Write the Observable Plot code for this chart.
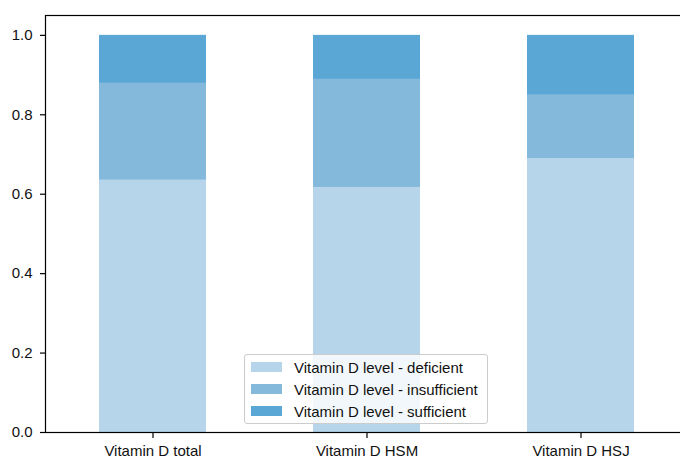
<!DOCTYPE html>
<html>
<head>
<meta charset="utf-8">
<script src="https://cdn.jsdelivr.net/npm/d3@7"></script>
<script src="https://cdn.jsdelivr.net/npm/@observablehq/plot@0.6"></script>
<style>
  body { margin: 0; background: #fff; font-family: "Liberation Sans", Arial, Helvetica, sans-serif; }
  #wrap { position: relative; width: 680px; height: 460px; overflow: hidden; }
  #legend {
    position: absolute; left: 244px; top: 354px; width: 242px; height: 67px;
    background: rgba(255,255,255,0.8); border: 1px solid #cccccc; border-radius: 3px;
    padding: 1px 0 0 0; box-sizing: content-box; font-size: 15px; color: #111;
  }
  .row { display: flex; align-items: center; height: 22px; padding-left: 6px; }
  .sw { width: 31px; height: 10.5px; margin-right: 12px; flex: none; }
</style>
</head>
<body>
<div id="wrap"><div id="chart"></div><div id="legend"></div></div>
<script>
const categories = ["Vitamin D total", "Vitamin D HSM", "Vitamin D HSJ"];
const seriesNames = ["Vitamin D level - deficient", "Vitamin D level - insufficient", "Vitamin D level - sufficient"];
const deficient = [0.635, 0.617, 0.689];
const insufficient = [0.244, 0.272, 0.160];
const sufficient = [0.121, 0.111, 0.151];
const colors = ["#b7d5ea", "#84b9db", "#5aa6d4"];
const yTicks = [0, 0.2, 0.4, 0.6, 0.8, 1.0];

const seriesValues = [deficient, insufficient, sufficient];
const data = [];
seriesNames.forEach((s, si) => {
  categories.forEach((c, ci) => data.push({category: c, series: s, value: seriesValues[si][ci]}));
});

const plot = Plot.plot({
  width: 680,
  height: 460,
  marginTop: 15,
  marginBottom: 28,
  marginLeft: 45,
  marginRight: -7.5,
  style: {fontFamily: '"Liberation Sans", Arial, Helvetica, sans-serif', fontSize: "15px", color: "#111", background: "#fff"},
  x: {domain: categories, paddingInner: 0.5, paddingOuter: 0.25, align: 0.5, label: null},
  y: {domain: [0, 1.05], label: null},
  color: {domain: seriesNames, range: colors},
  marks: [
    Plot.barY(data, Plot.stackY({x: "category", y: "value", fill: "series", order: seriesNames})),
    Plot.frame({stroke: "#000", strokeWidth: 1.2}),
    Plot.axisY({ticks: yTicks, tickFormat: ".1f", tickSize: 5, tickPadding: 8, label: null, stroke: "#000", strokeWidth: 1.2}),
    Plot.axisX({tickSize: 6, tickPadding: 7, label: null, stroke: "#000", strokeWidth: 1.2})
  ]
});
document.getElementById("chart").appendChild(plot);

const legend = document.getElementById("legend");
seriesNames.forEach((s, i) => {
  const row = document.createElement("div");
  row.className = "row";
  const sw = document.createElement("span");
  sw.className = "sw";
  sw.style.background = colors[i];
  const t = document.createElement("span");
  t.textContent = s;
  row.appendChild(sw); row.appendChild(t);
  legend.appendChild(row);
});
</script>
</body>
</html>
